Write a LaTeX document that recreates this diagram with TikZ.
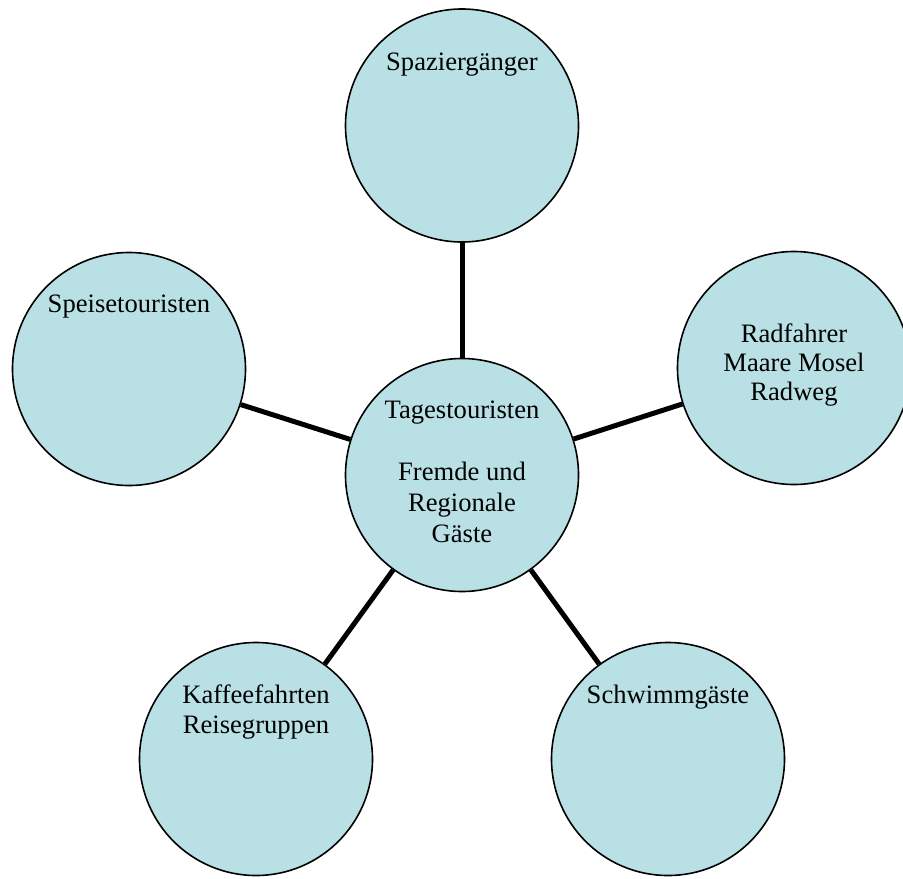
\documentclass[tikz,border=0pt]{standalone}
\usepackage{fontspec}
\setmainfont{Liberation Serif}
\definecolor{guestBlue}{RGB}{185,224,228}
\tikzset{
  guestGroup/.style={circle, fill=guestBlue, draw, line width=0.8pt, minimum size=116.5pt, inner sep=0pt},
  groupLabel/.style={anchor=base, align=center, font=\fontsize{13.3}{15}\selectfont},
  link/.style={line width=2.5pt}
}

\begin{document}
\begin{tikzpicture}[x=0.5pt, y=-0.5pt]
  \useasboundingbox (0,0) rectangle (903,878);

  % groups of guests
  \node[guestGroup] (tages) at (462,475) {};
  \node[guestGroup] (spazier) at (462,125.5) {};
  \node[guestGroup] (radfahrer) at (794,368) {};
  \node[guestGroup] (speise) at (129,369) {};
  \node[guestGroup] (kaffee) at (256,759) {};
  \node[guestGroup] (schwimm) at (668,759) {};

  \draw[link] (tages) -- (spazier);
  \draw[link] (tages) -- (radfahrer);
  \draw[link] (tages) -- (speise);
  \draw[link] (tages) -- (kaffee);
  \draw[link] (tages) -- (schwimm);

  % labels (base = last line)
  \node[groupLabel, font=\fontsize{13.3}{15.5}\selectfont] (tagesText) at ([yshift=-33.5pt]tages.center) {Tagestouristen\\[15.5pt]Fremde und\\Regionale\\Gäste};
  \node[groupLabel] (spazierText) at ([yshift=27.75pt]spazier.center) {Spaziergänger};
  \node[groupLabel, font=\fontsize{13.3}{14.5}\selectfont] (radfahrerText) at ([yshift=-16pt]radfahrer.center) {Radfahrer\\Maare Mosel\\Radweg};
  \node[groupLabel] (speiseText) at ([yshift=28.5pt]speise.center) {Speisetouristen};
  \node[groupLabel] (kaffeeText) at ([yshift=13pt]kaffee.center) {Kaffeefahrten\\Reisegruppen};
  \node[groupLabel] (schwimmText) at ([yshift=28pt]schwimm.center) {Schwimmgäste};
\end{tikzpicture}
\end{document}
